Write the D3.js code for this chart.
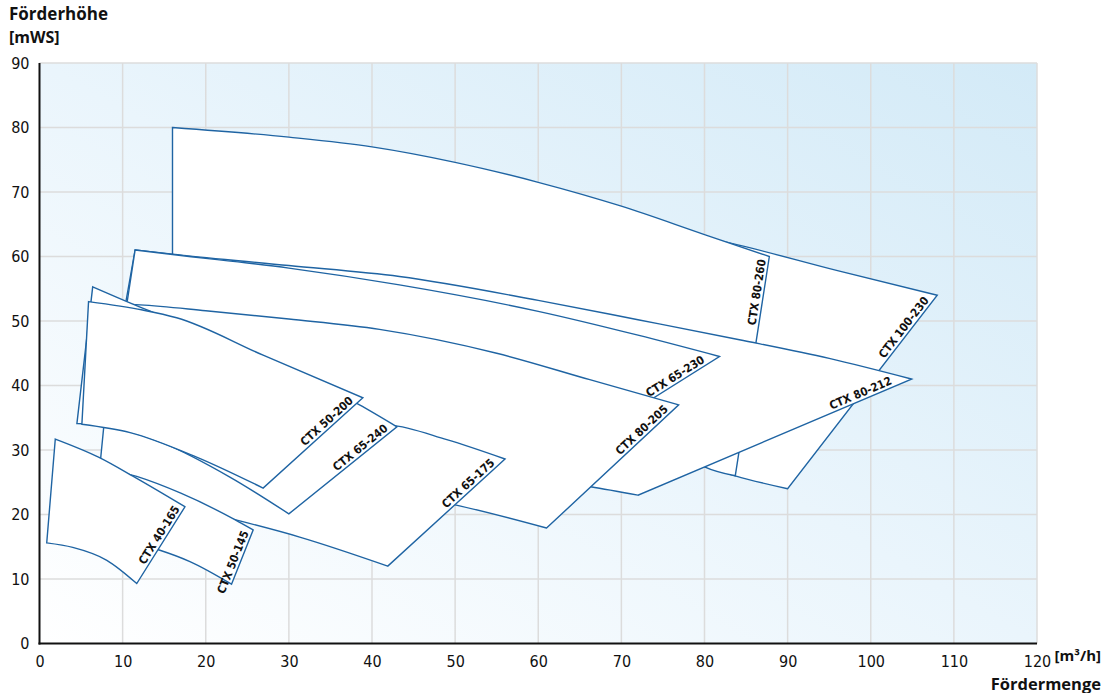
<!DOCTYPE html>
<html><head><meta charset="utf-8">
<script src="https://cdn.jsdelivr.net/npm/d3@7"></script>
<style>
html,body{margin:0;padding:0;background:#fff;}
svg{display:block;}
</style></head><body>
<svg id="chart" width="1113" height="693"></svg>
<script>
// ---------- data ----------
const xTicks = [0,10,20,30,40,50,60,70,80,90,100,110,120];
const yTicks = [0,10,20,30,40,50,60,70,80,90];
const yTitle = ["Förderhöhe", "[mWS]"];
const xTitle = "Fördermenge";
const xUnit = "[m³/h]";

// pump names in drawing order (back to front)
const pumpNames = ["CTX 100-230","CTX 80-260","CTX 80-212","CTX 65-230","CTX 80-205",
                   "CTX 65-175","CTX 50-145","CTX 65-240","CTX 50-200","CTX 40-165"];

// upper curves (left -> right), values [m3/h, mWS]
const top_100_230 = [[70,65.5],[84,61.8],[96,57.8],[108,54.0]];
const top_80_260  = [[16,80],[30,78.5],[40,77.0],[50,74.6],[60,71.5],[70,67.8],[80,63.4],[87.8,60.0]];
const top_80_212  = [[11.5,61.0],[16,60.35],[30,58.6],[43.3,56.9],[60,53.2],[72,50.2],[84.2,47.1],[95,44.2],[104.9,41.0]];
const top_65_230  = [[11.5,61.0],[16,60.3],[30,58.2],[43.3,55.6],[60,51.5],[72,47.8],[81.8,44.5]];
const top_80_205  = [[10.5,52.6],[12.1,52.5],[20,51.6],[30,50.3],[40.9,48.7],[55,45.0],[66.2,40.9],[76.9,37.0]];
const top_65_175  = [[7.8,34.5],[15,34.6],[25,34.6],[35,34.3],[42.1,33.9],[49,31.6],[56,28.6]];
const top_50_145  = [[8,27.2],[11.7,25.9],[17,23.3],[23.5,19.2],[25.7,17.6]];
const top_65_240  = [[6.4,55.3],[12.4,52.0],[16.5,49.9],[26.9,44.0],[33,40.6],[38.5,37.0],[43,33.6]];
const top_50_200  = [[5.9,53.0],[12.4,51.7],[16.5,50.5],[26.9,44.7],[38.9,38.1]];
const top_40_165  = [[1.9,31.7],[7.1,28.9],[11.7,25.6],[17.5,21.2]];

// lower curves (right -> left)
const bot_100_230 = [[90,24.0],[83.7,26.0],[80,27.6],[70,33.0]];
const bot_80_260  = [[83.7,26.0],[80,27.4],[72,36],[60,45],[45,53],[30,57.5],[16,60.2]];
const bot_80_212  = [[72,23.0],[66.3,24.3],[60,25.5],[50,28],[30,33],[8.6,40]];
const bot_65_230  = [[66,31.7],[50,37.5],[30,42],[9.6,45]];
const bot_80_205  = [[61,17.9],[50,21.5],[30,25.5],[15,26.8],[9,27.0]];
const bot_65_175  = [[41.9,12.0],[31.3,16.5],[23.5,19.2],[15,21.8],[7.0,24.0]];
const bot_50_145  = [[23.1,9.2],[18.1,12.7],[14.4,14.5],[8,16.5]];
const bot_65_240  = [[30,20.1],[22.9,25.8],[14.8,31.1],[6.9,33.9],[4.5,34.1]];
const bot_50_200  = [[26.9,24.1],[18.9,28.9],[10.9,32.7],[5.1,34.0]];
const bot_40_165  = [[11.7,9.3],[8.1,12.9],[4.0,14.9],[0.87,15.6]];

const tops = [top_100_230,top_80_260,top_80_212,top_65_230,top_80_205,top_65_175,top_50_145,top_65_240,top_50_200,top_40_165];
const bots = [bot_100_230,bot_80_260,bot_80_212,bot_65_230,bot_80_205,bot_65_175,bot_50_145,bot_65_240,bot_50_200,bot_40_165];
const pumps = pumpNames.map((n,i)=>({name:n, top:tops[i], bottom:bots[i]}));

// ---------- chart ----------
const svg = d3.select("#chart");
const x = d3.scaleLinear().domain([0,120]).range([39.5,1037]);
const y = d3.scaleLinear().domain([0,90]).range([643.5,63]);

const defs = svg.append("defs");
const grad = defs.append("linearGradient").attr("id","bg")
  .attr("x1","0").attr("y1","1").attr("x2","1").attr("y2","0");
grad.append("stop").attr("offset","0").attr("stop-color","#ffffff");
grad.append("stop").attr("offset","0.5").attr("stop-color","#eaf5fc");
grad.append("stop").attr("offset","1").attr("stop-color","#d3eaf7");

svg.append("rect").attr("x",x(0)).attr("y",y(90))
  .attr("width",x(120)-x(0)).attr("height",y(0)-y(90)).attr("fill","url(#bg)");

// grid
const grid = svg.append("g").attr("stroke","#dcdcdc").attr("stroke-width",1.5);
grid.selectAll("line.v").data(xTicks.filter(d=>d>0)).join("line").attr("class","v")
  .attr("x1",d=>x(d)).attr("x2",d=>x(d)).attr("y1",y(0)).attr("y2",y(90));
grid.selectAll("line.h").data(yTicks.filter(d=>d>0)).join("line").attr("class","h")
  .attr("y1",d=>y(d)).attr("y2",d=>y(d)).attr("x1",x(0)).attr("x2",x(120));

// pump areas
const lg = d3.line().x(d=>x(d[0])).y(d=>y(d[1])).curve(d3.curveMonotoneX);
function areaPath(p){ return lg(p.top) + lg(p.bottom).replace(/^M/,"L") + "Z"; }

const gP = svg.append("g");
pumps.forEach(p=>{
  gP.append("path").attr("d",areaPath(p)).attr("fill","#ffffff")
    .attr("stroke","#1f64a3").attr("stroke-width",1.4).attr("stroke-linejoin","miter");
});

// labels along right edge
const labelFont = 11.5, capH = 8.5, gap = 3;
pumps.forEach(p=>{
  const C = [x(p.top[p.top.length-1][0]), y(p.top[p.top.length-1][1])];
  const B = [x(p.bottom[0][0]), y(p.bottom[0][1])];
  const T = [x(p.top[p.top.length-2][0]), y(p.top[p.top.length-2][1])];
  let ux = C[0]-B[0], uy = C[1]-B[1]; const L = Math.hypot(ux,uy); ux/=L; uy/=L;
  let tx = T[0]-C[0], ty = T[1]-C[1]; const LT = Math.hypot(tx,ty); tx/=LT; ty/=LT;
  const cosPhi = (-ux)*tx + (-uy)*ty;
  const phi = Math.acos(Math.max(-1,Math.min(1,cosPhi)));
  const d = phi < Math.PI/2 ? (gap+capH)/Math.tan(phi) + 4 : 4;
  const theta = Math.atan2(uy,ux);
  const upx = Math.sin(theta), upy = -Math.cos(theta);
  const px = C[0] - ux*d + upx*gap, py = C[1] - uy*d + upy*gap;
  svg.append("text").attr("transform",`translate(${px},${py}) rotate(${theta*180/Math.PI})`)
    .attr("text-anchor","end")
    .attr("font-family","'Liberation Sans Narrow','DejaVu Sans Condensed',sans-serif")
    .attr("font-weight","bold").attr("font-size",labelFont).attr("fill","#111")
    .text(p.name);
});

// axes lines
svg.append("line").attr("x1",x(0)).attr("x2",x(0)).attr("y1",y(90)).attr("y2",y(0)+1)
  .attr("stroke","#111").attr("stroke-width",2);
svg.append("line").attr("x1",x(0)-1).attr("x2",x(120)).attr("y1",y(0)).attr("y2",y(0))
  .attr("stroke","#111").attr("stroke-width",2);

const tickFont = "'Liberation Sans Narrow','DejaVu Sans Condensed',sans-serif";
const ax = svg.append("g").attr("transform",`translate(0,${y(0)})`)
  .call(d3.axisBottom(x).tickValues(xTicks).tickSize(0).tickPadding(12.5).tickFormat(d3.format("d")));
const ay = svg.append("g").attr("transform",`translate(${x(0)},0)`)
  .call(d3.axisLeft(y).tickValues(yTicks).tickSize(0).tickPadding(10).tickFormat(d3.format("d")));
[ax,ay].forEach(a=>{
  a.select(".domain").remove();
  a.selectAll("text").attr("font-family",tickFont).attr("font-size",16).attr("fill","#111");
});

// titles
const tf = "'Open Sans','Noto Sans',sans-serif";
svg.append("text").attr("x",9).attr("y",20).attr("font-family",tf).attr("font-weight","bold")
  .attr("font-size",17).attr("fill","#111").text(yTitle[0]);
svg.append("text").attr("x",9).attr("y",42.5).attr("font-family",tf).attr("font-weight","bold")
  .attr("font-size",16).attr("fill","#111").text(yTitle[1]);

svg.append("text").attr("x",1101).attr("y",661).attr("text-anchor","end").attr("font-family",tf)
  .attr("font-weight","bold").attr("font-size",15).attr("fill","#111").text(xUnit);
svg.append("text").attr("x",1101).attr("y",689.5).attr("text-anchor","end").attr("font-family",tf)
  .attr("font-weight","bold").attr("font-size",16.5).attr("fill","#111").text(xTitle);
</script>
</body></html>
